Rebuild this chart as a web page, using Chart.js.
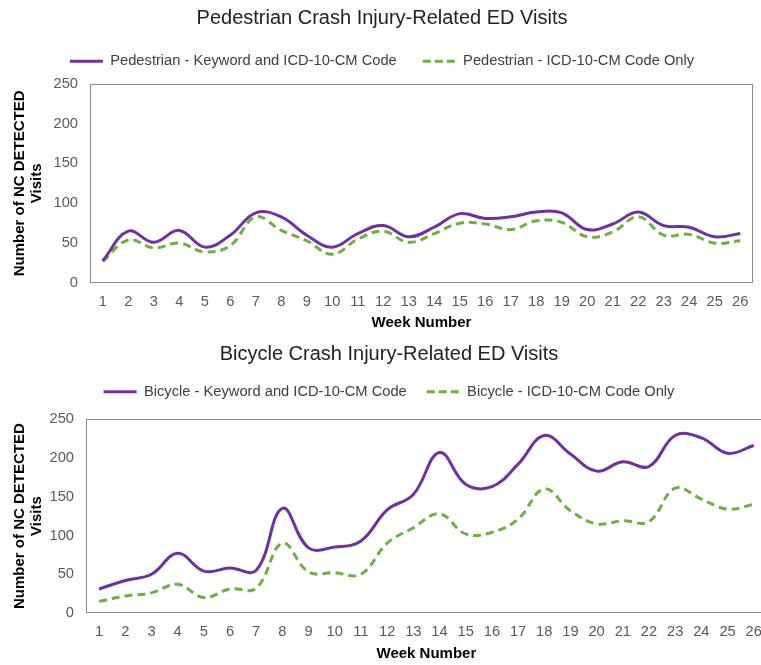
<!DOCTYPE html>
<html>
<head>
<meta charset="utf-8">
<script src="https://cdn.jsdelivr.net/npm/chart.js@4/dist/chart.umd.min.js"></script>
<style>
  html, body { margin: 0; padding: 0; background: #fff; overflow: hidden; width: 761px; height: 665px; }
  #ped { position: absolute; left: 0; top: 0; }
  #bike { position: absolute; left: 0; top: 335px; }
</style>
</head>
<body>
<canvas id="ped" width="761" height="335"></canvas>
<canvas id="bike" width="772" height="330"></canvas>
<script>
'use strict'
// week numbers 1..26
let weeks = ["1", "2", "3", "4", "5", "6", "7", "8", "9", "10", "11", "12", "13",
    "14", "15", "16", "17", "18", "19", "20", "21", "22", "23", "24", "25", "26"];

let pedKeyword = [28, 65, 51, 66, 45, 60, 88, 83, 60, 45, 62, 72, 58,
    70, 87, 81, 83, 89, 88, 67, 74, 89, 72, 70, 58, 62];
let pedIcdOnly = [27, 54, 44, 50, 39, 47, 83, 66, 53, 36, 55, 65, 51,
    62, 75, 74, 67, 78, 76, 58, 64, 83, 60, 61, 50, 53];

let bikeKeyword = [31, 42, 50, 77, 54, 58, 55, 135, 84, 85, 93, 133, 153,
    207, 166, 163, 192, 229, 205, 183, 195, 189, 229, 226, 206, 216];
let bikeIcdOnly = [15, 22, 26, 37, 20, 31, 32, 90, 53, 52, 50, 90, 110,
    128, 102, 104, 121, 160, 132, 115, 119, 118, 161, 147, 134, 140];

let yTicks = [0, 50, 100, 150, 200, 250];

const PURPLE = "#7030a0";
const GREEN = "#70ad47";
const FONT = "'Liberation Sans', Arial, sans-serif";

// plot frame like the excel chart
let boxPlugin = {
    id: "box",
    beforeDatasetsDraw: function (chart) {
        let ctx = chart.ctx;
        let a = chart.chartArea;
        ctx.save();
        ctx.strokeStyle = "#8c8c8c";
        ctx.lineWidth = 1;
        ctx.strokeRect(Math.round(a.left) + 0.5, Math.round(a.top) + 0.5,
            Math.round(a.width) - 1, Math.round(a.height) - 1);
        ctx.restore();
    },
};

// extra space between legend and plot
let legendGapPlugin = {
    id: "legendGap",
    beforeLayout: function (chart, args, opts) {
        let lg = chart.legend;
        if (lg && !lg._gapPatched) {
            let fit = lg.fit;
            lg.fit = function () {
                fit.call(this);
                this.height += opts.extra || 0;
            };
            lg._gapPatched = true;
        }
    },
};

// legend samples use the dataset line (width + dash), not the point style
function lineLabels(chart) {
    let items = Chart.defaults.plugins.legend.labels.generateLabels(chart);
    items.forEach(function (item) {
        let ds = chart.data.datasets[item.datasetIndex];
        item.lineWidth = ds.borderWidth;
        item.lineDash = ds.legendDash || [];
        item.strokeStyle = ds.borderColor;
    });
    return items;
}

function makeChart(id, title, labels, keyword, icdOnly, opt) {
    return new Chart(id, {
        type: "line",
        data: {
            labels: weeks,
            datasets: [
                {
                    label: labels[0],
                    data: keyword,
                    borderColor: PURPLE,
                    backgroundColor: PURPLE,
                    borderWidth: 3,
                    pointRadius: 0,
                    tension: 0.4,
                },
                {
                    label: labels[1],
                    data: icdOnly,
                    borderColor: GREEN,
                    backgroundColor: GREEN,
                    borderWidth: 3,
                    borderDash: [8, 5],
                    legendDash: [8, 4],
                    pointRadius: 0,
                    tension: 0.4,
                },
            ],
        },
        options: {
            responsive: false,
            animation: false,
            layout: {
                padding: { left: 11, right: opt.right, top: 0, bottom: 2 },
            },
            plugins: {
                tooltip: { enabled: false },
                legendGap: { extra: opt.legendExtra },
                title: {
                    display: true,
                    text: title,
                    color: "#222",
                    font: { family: FONT, size: 20, weight: "normal", lineHeight: 1 },
                    padding: { top: opt.titleTop, bottom: 0 },
                },
                legend: {
                    display: true,
                    labels: {
                        usePointStyle: true,
                        pointStyle: "line",
                        pointStyleWidth: 33,
                        boxWidth: 33,
                        color: "#404040",
                        padding: opt.legendPad,
                        font: { family: FONT, size: 14.7 },
                        generateLabels: lineLabels,
                    },
                },
            },
            scales: {
                x: {
                    offset: true,
                    grid: { display: false, drawTicks: false, offset: true },
                    border: { display: false },
                    ticks: {
                        color: "#595959",
                        padding: 10,
                        maxRotation: 0,
                        autoSkip: false,
                        font: { family: FONT, size: 14.7 },
                    },
                    title: {
                        display: true,
                        text: "Week Number",
                        color: "#000",
                        font: { family: FONT, size: 15, weight: "bold" },
                        padding: { top: 0, bottom: opt.xTitleBottom },
                    },
                    afterFit: function (scale) {
                        scale.height = 50;
                    },
                },
                y: {
                    min: 0,
                    max: 250,
                    afterBuildTicks: function (scale) {
                        scale.ticks = yTicks.map(function (v) { return { value: v }; });
                    },
                    grid: { display: false, drawTicks: false },
                    border: { display: false },
                    ticks: {
                        color: "#595959",
                        padding: 12,
                        font: { family: FONT, size: 14.7 },
                    },
                    title: {
                        display: true,
                        text: ["Number of NC DETECTED", "Visits"],
                        color: "#000",
                        font: { family: FONT, size: 15, weight: "bold", lineHeight: 1.15 },
                        padding: { top: 0, bottom: 0 },
                    },
                    afterFit: function (scale) {
                        scale.width = opt.yWidth;
                    },
                },
            },
        },
        plugins: [boxPlugin, legendGapPlugin],
    });
}

let pedChart = makeChart("ped", "Pedestrian Crash Injury-Related ED Visits",
    ["Pedestrian - Keyword and ICD-10-CM Code", "Pedestrian - ICD-10-CM Code Only"],
    pedKeyword, pedIcdOnly,
    { right: 8, yWidth: 79, xTitleBottom: 1, titleTop: 8, legendPad: 26, legendExtra: 5 });

let bikeChart = makeChart("bike", "Bicycle Crash Injury-Related ED Visits",
    ["Bicycle - Keyword and ICD-10-CM Code", "Bicycle - ICD-10-CM Code Only"],
    bikeKeyword, bikeIcdOnly,
    { right: 5, yWidth: 75, xTitleBottom: 0, titleTop: 9.5, legendPad: 20, legendExtra: 10 });
</script>
</body>
</html>
